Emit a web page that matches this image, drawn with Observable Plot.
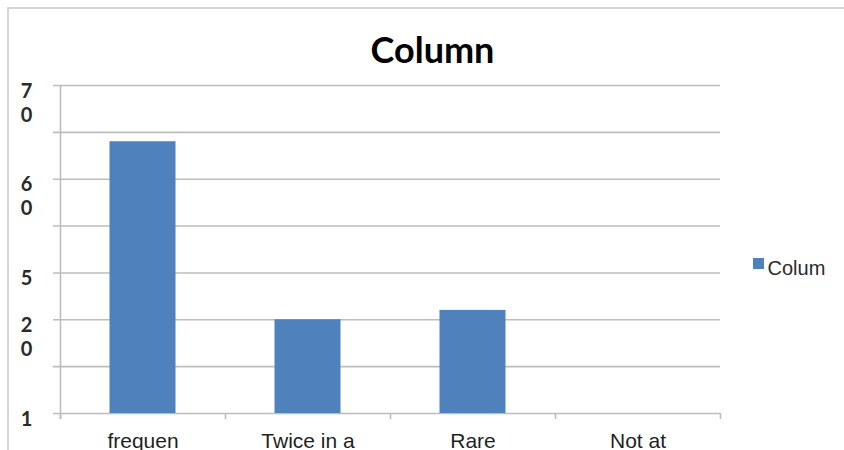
<!DOCTYPE html>
<html>
<head>
<meta charset="utf-8">
<script src="https://cdn.jsdelivr.net/npm/d3@7"></script>
<script src="https://cdn.jsdelivr.net/npm/@observablehq/plot@0.6"></script>
<style>
  html, body { margin: 0; padding: 0; background: #fff; }
  #wrap { position: relative; width: 844px; height: 450px; overflow: hidden; }
  #border { position: absolute; left: 7px; top: 7px; right: -4px; bottom: -4px;
            border-top: 2px solid #d6d6d6; border-left: 2px solid #d6d6d6; }
  #chart { position: absolute; left: 0; top: 0; }
</style>
</head>
<body>
<div id="wrap"><div id="border"></div><div id="chart"></div></div>
<script>
// ---- data ----
const categories = ["frequen", "Twice in a", "Rare", "Not at"];
const values = [5.8, 2.0, 2.2, 0];
const seriesName = "Colum";
const chartTitle = "Column";
const yTicks = [0, 1, 2, 3, 4, 5, 6, 7];
const yLabelTicks = [7, 5, 3, 2, 0];
const yLabels = ["7\n0", "6\n0", "5", "2\n0", "1"];
const xBoundaries = [0, 1, 2, 3, 4];

const rows = categories.map((c, i) => ({cat: c, i, v: values[i]}));
const labelRows = yLabelTicks.map((t, k) => ({t, label: yLabels[k]}));

const blue = "#4F81BD";
const grid = "#bdbdbd";
const band = 165; // pixel width of one category step
const barInset = band * 0.3;

const plot = Plot.plot({
  width: 844,
  height: 450,
  marginLeft: 60,
  marginRight: 124,
  marginTop: 85,
  marginBottom: 37,
  x: {type: "linear", domain: [0, categories.length], axis: null},
  y: {domain: [0, 7], axis: null},
  style: {background: "transparent", overflow: "visible"},
  marks: [
    Plot.ruleY(yTicks, {stroke: grid, strokeWidth: 1.6, insetLeft: -7}),
    Plot.ruleX([0], {stroke: grid, strokeWidth: 1.6, insetBottom: -6}),
    Plot.axisX({ticks: xBoundaries, tickSize: 6, tickFormat: () => "", stroke: grid, strokeWidth: 1.6}),
    Plot.rectY(rows, {
      x1: d => d.i, x2: d => d.i + 1, y1: 0, y2: "v",
      fill: blue, insetLeft: barInset, insetRight: barInset
    }),
    Plot.text(rows, {
      x: d => d.i + 0.5, y: 0, text: "cat",
      dy: 34, lineAnchor: "bottom",
      fontFamily: "Liberation Sans, Arial, sans-serif", fontSize: 21,
      letterSpacing: 0.6, fill: "#1f1f1f"
    }),
    Plot.text(labelRows, {
      frameAnchor: "left", y: "t", text: "label",
      dx: -34, dy: -5, textAnchor: "middle", lineAnchor: "top", lineHeight: 1.2,
      fontFamily: "Lato, sans-serif", fontWeight: 700, fontSize: 20, fill: "#2a2a2a"
    }),
    Plot.text([chartTitle], {
      frameAnchor: "top", dx: 42, dy: -22.5, lineAnchor: "bottom",
      fontFamily: "Lato, sans-serif", fontWeight: 700, fontSize: 36, fill: "#000"
    }),
    Plot.dot([seriesName], {
      frameAnchor: "right", dx: 38, dy: 14, symbol: "square", r: 6.2, fill: blue, stroke: null
    }),
    Plot.text([seriesName], {
      frameAnchor: "right", dx: 47, dy: 25, textAnchor: "start", lineAnchor: "bottom",
      fontFamily: "Liberation Sans, Arial, sans-serif", fontSize: 20, letterSpacing: 1, fill: "#2a2a2a"
    })
  ]
});
document.getElementById("chart").appendChild(plot);
</script>
</body>
</html>
